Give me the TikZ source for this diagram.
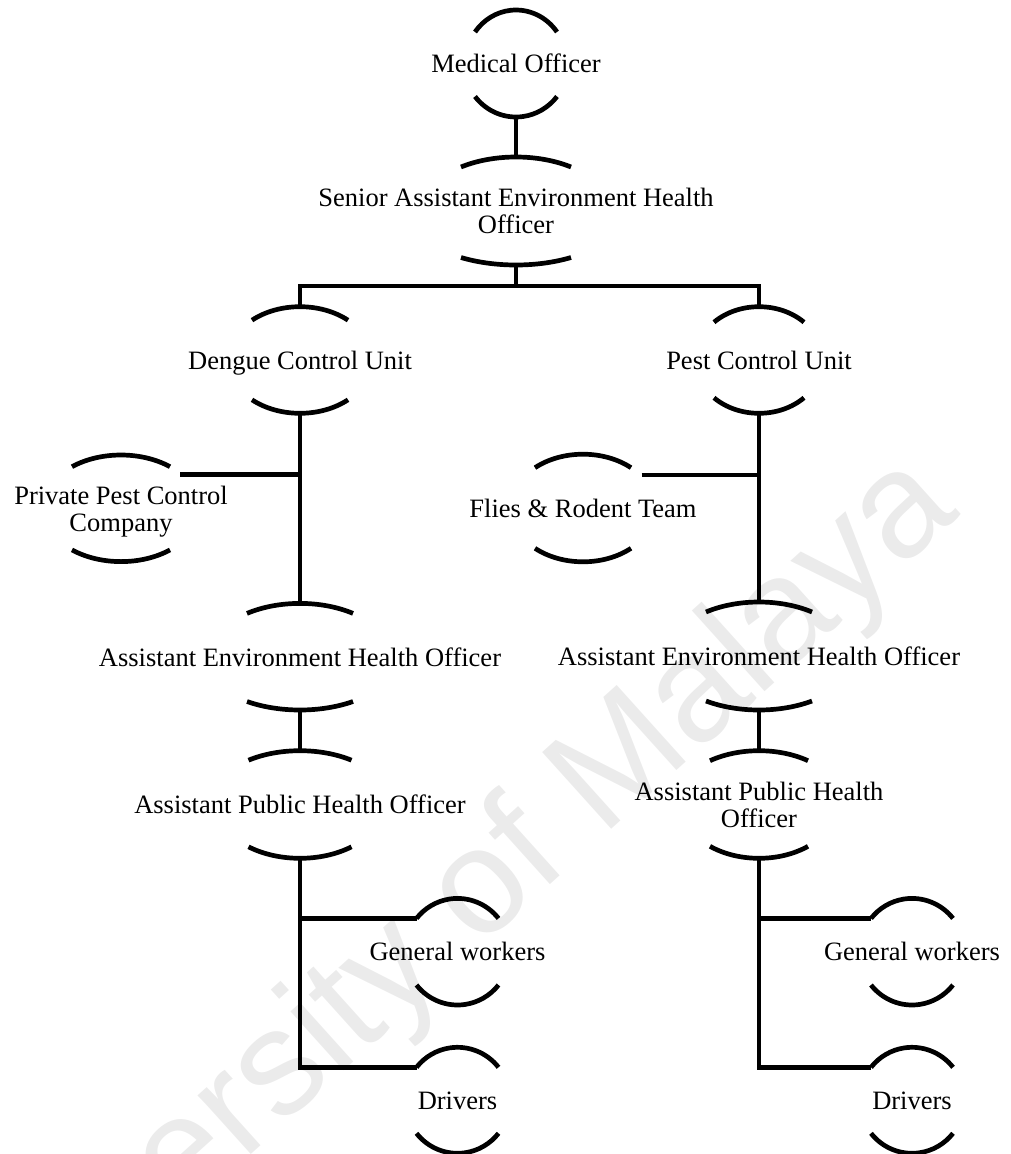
\documentclass[tikz,border=0pt]{standalone}
\usepackage{fontspec}
\setmainfont{Liberation Serif}
\newfontfamily\wmfont{Liberation Sans}
\usetikzlibrary{calc}

% A unit of the chart: its label, with a curved cap above and below.
% #1 name, #2 x, #3 y (downwards), #4 half height, #5 cap half width,
% #6 rise of the upper cap, #7 rise of the lower cap, #8 label
\newcommand\orgunit[8]{%
  \node[unit, minimum height={2*#4}] (#1) at (#2,-#3) {#8};
  \pgfmathsetmacro\capta{asin(1-#6/#4)}%
  \pgfmathsetmacro\caprxa{#5/cos(\capta)}%
  \pgfmathsetmacro\captb{asin(1-#7/#4)}%
  \pgfmathsetmacro\caprxb{#5/cos(\captb)}%
  \draw[capline] (#1.center) ++(#5,{#4-#6}) coordinate (#1-tr)
    arc[start angle=\capta, end angle={180-\capta}, x radius=\caprxa, y radius=#4]
    coordinate (#1-tl);
  \draw[capline] (#1.center) ++(-#5,{-(#4-#7)}) coordinate (#1-bl)
    arc[start angle={180+\captb}, end angle={360-\captb}, x radius=\caprxb, y radius=#4]
    coordinate (#1-br);
}

\begin{document}
\begin{tikzpicture}[x=1pt, y=1pt,
  unit/.style={rectangle, inner sep=0pt, align=center, text depth=0pt,
    font=\fontsize{26.5}{27}\selectfont},
  capline/.style={line width=4.7pt},
  link/.style={line width=4.6pt},
  watermark/.style={inner sep=0pt, text=black!8,
    font=\wmfont\fontsize{150}{150}\selectfont}]

\useasboundingbox (0,0) rectangle (1011,-1154);

% faint watermark behind the chart
\node[watermark, rotate=42, anchor=base east] (wm) at (962,-514) {University of Malaya};

% units
\orgunit{med}{516}{63.5}{53.5}{41}{22}{20.5}{Medical Officer}
\orgunit{senior}{516}{211}{54}{55}{10}{7.5}{Senior Assistant Environment Health\\Officer}
\orgunit{dengue}{300}{360}{53.3}{48}{13.5}{13.5}{Dengue Control Unit}
\orgunit{pest}{759}{360}{53.3}{45}{15.5}{15.5}{Pest Control Unit}
\orgunit{private}{121}{508.3}{53.3}{49}{11.7}{11.7}{Private Pest Control\\Company}
\orgunit{flies}{583}{508}{53.8}{48}{13.5}{13.5}{Flies \& Rodent Team}
\orgunit{aehoL}{300}{656.7}{53.3}{53}{10}{8.5}{Assistant Environment Health Officer}
\orgunit{aehoR}{759}{656}{54}{53}{10}{9}{Assistant Environment Health Officer}
\orgunit{aphoL}{300}{804.5}{53.8}{51.5}{9.5}{11.5}{Assistant Public Health Officer}
\orgunit{aphoR}{759}{804.5}{53.8}{49}{10}{12}{Assistant Public Health\\Officer}
\orgunit{gwL}{457.5}{951.7}{53.3}{41}{20}{20}{General workers}
\orgunit{drL}{457.5}{1100.3}{53}{41}{20}{20}{Drivers}
\orgunit{gwR}{912}{951.7}{53.3}{41}{20}{20}{General workers}
\orgunit{drR}{912}{1100.3}{53}{41}{20}{20}{Drivers}

% reporting lines
\coordinate (bar) at (516,-286);
\draw[link] (med.south) -- (senior.north);
\draw[link] (senior.south) -- (bar);
\draw[link] (dengue.north) |- (bar) -| (pest.north);

\draw[link] (dengue.south) -- (aehoL.north);
\coordinate (privtip) at ($(private.center)+(59,34)$);
\draw[link] (privtip) -- (privtip -| dengue.south);

\draw[link] (pest.south) -- (aehoR.north);
\coordinate (fliestip) at ($(flies.center)+(58.7,33)$);
\draw[link] (fliestip) -- (fliestip -| pest.south);

\draw[link] (aehoL.south) -- (aphoL.north);
\draw[link] (aehoR.south) -- (aphoR.north);

\draw[link] (aphoL.south) |- (gwL-tl);
\draw[link] (aphoL.south) |- (drL-tl);
\draw[link] (aphoR.south) |- (gwR-tl);
\draw[link] (aphoR.south) |- (drR-tl);
\end{tikzpicture}
\end{document}
